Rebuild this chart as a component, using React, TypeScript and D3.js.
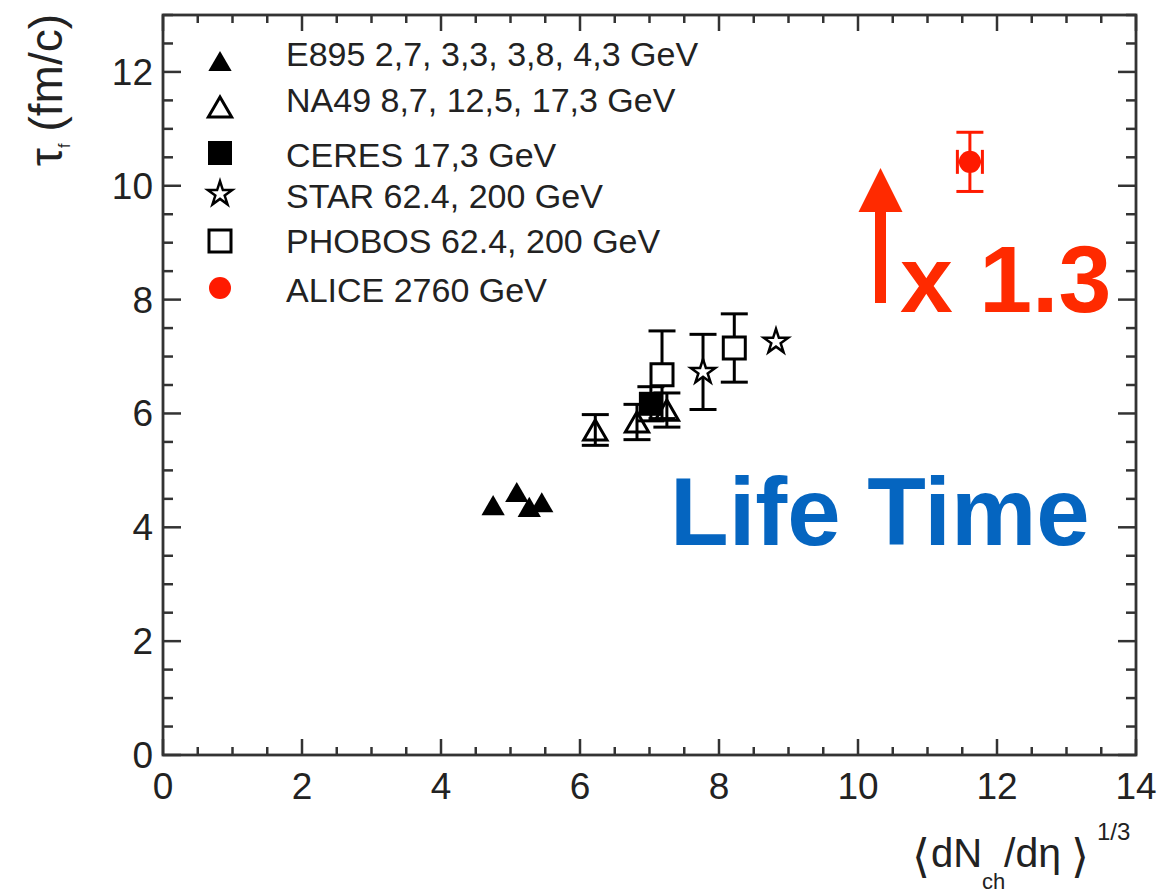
import React from "react";
import * as d3 from "d3";

// ---------- data ----------
const e895X = [4.75, 5.09, 5.27, 5.45];
const e895Y = [4.39, 4.62, 4.36, 4.44];

const na49X = [6.22, 6.82, 7.25];
const na49Y = [5.71, 5.85, 6.06];
const na49Err = [0.27, 0.31, 0.3];

const ceresX = [7.02];
const ceresY = [6.17];
const ceresErr = [0.3];

const starX = [7.77, 8.82];
const starY = [6.73, 7.26];
const starErr = [0.66, 0];

const phobosX = [7.18, 8.22];
const phobosY = [6.68, 7.15];
const phobosErr = [0.77, 0.6];

const aliceX = [11.61];
const aliceY = [10.42];
const aliceYErr = [0.52];
const aliceXErr = [0.18];

const xMajorTicks = [0, 2, 4, 6, 8, 10, 12, 14];
const yMajorTicks = [0, 2, 4, 6, 8, 10, 12];

const legendLabels = [
  "E895 2,7, 3,3, 3,8, 4,3 GeV",
  "NA49 8,7, 12,5, 17,3 GeV",
  "CERES 17,3 GeV",
  "STAR 62.4, 200 GeV",
  "PHOBOS 62.4, 200 GeV",
  "ALICE 2760 GeV",
];
const legendKinds = ["triFilled", "triOpen", "sqFilled", "star", "sqOpen", "circle"];

// ---------- layout ----------
const W = 1163;
const H = 893;
const L = 163, R = 1136, T = 15, B = 755;
const FONT = "'Liberation Sans', Arial, Helvetica, sans-serif";
const AXIS = "#333";
const RED_DATA = "#ff1a00";
const RED = "#ff2a00";
const BLUE = "#0565c0";

const x = d3.scaleLinear().domain([0, 14]).range([L, R]);
const y = d3.scaleLinear().domain([0, 13]).range([B, T]);

const TRI = 235;
const triPath = d3.symbol().type(d3.symbolTriangle).size(TRI)()!;
const triY = -Math.sqrt(TRI / (Math.sqrt(3) * 3));
const starPath = d3.symbol().type(d3.symbolStar).size(185)()!;
const sqPath = d3.symbol().type(d3.symbolSquare).size(22 * 22)()!;
const sqFilledPath = d3.symbol().type(d3.symbolSquare).size(24 * 24)()!;
const circPath = d3.symbol().type(d3.symbolCircle).size(Math.PI * 11 * 11)()!;

function Marker({ kind, cx, cy }: { kind: string; cx: number; cy: number }) {
  switch (kind) {
    case "triFilled":
      return <path d={triPath} transform={`translate(${cx},${cy - triY / 2})`} fill="#000" />;
    case "triOpen":
      return (
        <path d={triPath} transform={`translate(${cx},${cy - triY / 2})`} fill="none" stroke="#000" strokeWidth={3} />
      );
    case "sqFilled":
      return <path d={sqFilledPath} transform={`translate(${cx},${cy})`} fill="#000" />;
    case "sqOpen":
      return <path d={sqPath} transform={`translate(${cx},${cy})`} fill="#fff" stroke="#000" strokeWidth={3} />;
    case "star":
      return (
        <path d={starPath} transform={`translate(${cx},${cy})`} fill="#fff" stroke="#000" strokeWidth={2.5} />
      );
    case "circle":
      return <path d={circPath} transform={`translate(${cx},${cy})`} fill={RED_DATA} />;
  }
  return null;
}

function ErrY({ xv, yv, e, color = "#000" }: { xv: number; yv: number; e: number; color?: string }) {
  if (!e) return null;
  const cx = x(xv);
  const y1 = y(yv + e);
  const y2 = y(yv - e);
  const cw = 13.5;
  return (
    <g stroke={color} strokeWidth={3}>
      <line x1={cx} x2={cx} y1={y1} y2={y2} />
      <line x1={cx - cw} x2={cx + cw} y1={y1} y2={y1} />
      <line x1={cx - cw} x2={cx + cw} y1={y2} y2={y2} />
    </g>
  );
}

function Series({ xs, ys, errs, kind }: { xs: number[]; ys: number[]; errs?: number[]; kind: string }) {
  return (
    <g>
      {xs.map((xv, i) => (
        <g key={i}>
          {errs ? <ErrY xv={xv} yv={ys[i]} e={errs[i]} /> : null}
          <Marker kind={kind} cx={x(xv)} cy={y(ys[i])} />
        </g>
      ))}
    </g>
  );
}

export default function App() {
  const xMinor = d3.range(0, 14.001, 0.5).filter((v) => !xMajorTicks.includes(v));
  const yMinor = d3.range(0, 13.001, 0.5).filter((v) => !yMajorTicks.includes(v));

  const legendMarkerY = [61, 107, 153, 194, 241, 288];
  const legendTextY = [66, 112, 167, 208, 253, 302];

  return (
    <svg
      width={W}
      height={H}
      style={{ position: "fixed", left: 0, top: 0, background: "#fff" }}
      fontFamily={FONT}
    >
      <rect x={0} y={0} width={W} height={H} fill="#fff" />

      {/* ticks */}
      <g stroke={AXIS} strokeWidth={2.5}>
        {xMajorTicks.map((v) => (
          <g key={"xM" + v}>
            <line x1={x(v)} x2={x(v)} y1={B} y2={B - 16} />
            <line x1={x(v)} x2={x(v)} y1={T} y2={T + 16} />
          </g>
        ))}
        {xMinor.map((v) => (
          <g key={"xm" + v}>
            <line x1={x(v)} x2={x(v)} y1={B} y2={B - 8} />
            <line x1={x(v)} x2={x(v)} y1={T} y2={T + 8} />
          </g>
        ))}
        {yMajorTicks.map((v) => (
          <g key={"yM" + v}>
            <line x1={L} x2={L + 18} y1={y(v)} y2={y(v)} />
            <line x1={R} x2={R - 18} y1={y(v)} y2={y(v)} />
          </g>
        ))}
        {yMinor.map((v) => (
          <g key={"ym" + v}>
            <line x1={L} x2={L + 10} y1={y(v)} y2={y(v)} />
            <line x1={R} x2={R - 10} y1={y(v)} y2={y(v)} />
          </g>
        ))}
      </g>
      <rect x={L} y={T} width={R - L} height={B - T} fill="none" stroke={AXIS} strokeWidth={2.8} />

      {/* tick labels */}
      <g fontSize={37} fill="#222">
        {xMajorTicks.map((v) => (
          <text key={"xl" + v} x={x(v)} y={799} textAnchor="middle">
            {v}
          </text>
        ))}
        {yMajorTicks.map((v) => (
          <text key={"yl" + v} x={153} y={y(v) + 13} textAnchor="end">
            {v}
          </text>
        ))}
      </g>

      {/* y-axis title */}
      <text transform="translate(62,14) rotate(-90)" fontSize={46} fill="#222" textAnchor="end">
        τ
        <tspan fontSize={16} dy={8}>f</tspan>
        <tspan dy={-8} dx={12}>(fm/c)</tspan>
      </text>

      {/* x-axis title */}
      <g fill="#222">
        <text x={912} y={872} fontSize={46} fontFamily="'DejaVu Sans', sans-serif">⟨</text>
        <text x={931} y={867} fontSize={40}>dN</text>
        <text x={982} y={889} fontSize={22}>ch</text>
        <text x={1004} y={867} fontSize={41}>/dη</text>
        <text x={1071} y={872} fontSize={46} fontFamily="'DejaVu Sans', sans-serif">⟩</text>
        <text x={1097} y={840} fontSize={24}>1/3</text>
      </g>

      {/* legend */}
      <g>
        {legendLabels.map((lab, i) => (
          <g key={lab}>
            <Marker kind={legendKinds[i]} cx={220} cy={legendMarkerY[i]} />
            <text x={286} y={legendTextY[i]} fontSize={34} fill="#222">
              {lab}
            </text>
          </g>
        ))}
      </g>

      {/* data */}
      <Series xs={e895X} ys={e895Y} kind="triFilled" />
      <Series xs={na49X} ys={na49Y} errs={na49Err} kind="triOpen" />
      <Series xs={phobosX} ys={phobosY} errs={phobosErr} kind="sqOpen" />
      <Series xs={starX} ys={starY} errs={starErr} kind="star" />
      <Series xs={ceresX} ys={ceresY} errs={ceresErr} kind="sqFilled" />

      {/* ALICE */}
      {aliceX.map((xv, i) => {
        const cx = x(xv);
        const cy = y(aliceY[i]);
        const xl = x(xv - aliceXErr[i]);
        const xr = x(xv + aliceXErr[i]);
        return (
          <g key={"al" + i}>
            <ErrY xv={xv} yv={aliceY[i]} e={aliceYErr[i]} color={RED_DATA} />
            <g stroke={RED_DATA} strokeWidth={3}>
              <line x1={xl} x2={xr} y1={cy} y2={cy} />
              <line x1={xl} x2={xl} y1={cy - 12} y2={cy + 12} />
              <line x1={xr} x2={xr} y1={cy - 12} y2={cy + 12} />
            </g>
            <Marker kind="circle" cx={cx} cy={cy} />
          </g>
        );
      })}

      {/* annotation arrow */}
      <rect x={875} y={210} width={11} height={93} fill={RED} />
      <path d="M880.5,168 L902.5,212 L858.5,212 Z" fill={RED} />
      <text x={900} y={312} fontSize={95} fontWeight="bold" fill={RED}>
        x 1.3
      </text>

      <text x={670} y={545} fontSize={96} fontWeight="bold" fill={BLUE}>
        Life Time
      </text>
    </svg>
  );
}
